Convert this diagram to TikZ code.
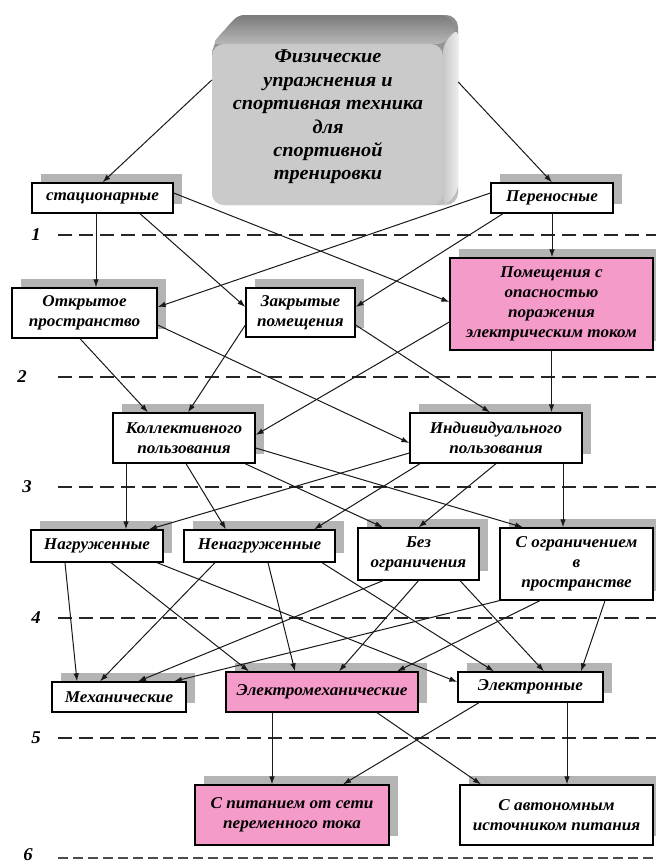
\documentclass[tikz,border=0pt]{standalone}
\usepackage{fontspec}
\setmainfont[FakeStretch=1.04]{Liberation Serif}
\usetikzlibrary{arrows.meta,shadows}
\definecolor{pinkfill}{HTML}{F59BC9}
\definecolor{shadowgray}{HTML}{B4B4B4}
\definecolor{faceface}{HTML}{CACACA}
\begin{document}
\begin{tikzpicture}[x=1pt,y=-1pt,
  box/.style={draw=black,line width=1.3pt,fill=white,inner sep=0pt,align=center,
    font=\fontsize{16.5}{20}\selectfont\bfseries\itshape,
    drop shadow={shadow xshift=9pt,shadow yshift=9pt,fill=shadowgray,opacity=1}},
  pinkbox/.style={box,fill=pinkfill},
  link/.style={line width=1pt,draw=black!90,-{Latex[length=8pt,width=5.5pt]}},
  level/.style={dash pattern=on 14pt off 7pt,line width=1.2pt,draw=black!85},
  levelnum/.style={font=\fontsize{18}{20}\selectfont\bfseries\itshape}
]
\useasboundingbox (0,0) rectangle (656,865);
\fill[white] (0,0) rectangle (656,865);

% beveled title block: body, front face, top and right bevels
\shade[top color=black!45,bottom color=black!25,rounded corners=12pt]
  (212,44) -- (238,15) -- (458,15) -- (458,205) -- (212,205) -- cycle;
\fill[faceface,rounded corners=12pt] (212,44) rectangle (443,205);
\shade[top color=black!52,bottom color=black!28,rounded corners=6pt]
  (212,44) -- (238,15) -- (446,15) -- (458,28) -- (443,44) -- cycle;
\shade[left color=black!22,right color=black!7,rounded corners=8pt]
  (443,44) -- (458,28) -- (458,192) -- (446,205) -- (443,205) -- cycle;
\node[minimum width=246pt,minimum height=190pt,inner sep=0pt] (top) at (335,110) {};
\node[font=\fontsize{19.5}{23.4}\selectfont\bfseries\itshape,align=center] (toptext) at (328,117)
  {Физические\\упражнения и\\спортивная техника\\для\\спортивной\\тренировки};

% level separators
\foreach \n/\lx/\ly in {1/36/235,2/22/377,3/27/487,4/36/618,5/36/738}{
  \node[levelnum] (lv\n) at (\lx,\ly) {\n};
  \draw[level] (58,\ly) -- (656,\ly);
}
\node[levelnum] (lv6) at (28,855) {6};
\draw[level,dash pattern=on 10pt off 5pt,draw=black!70] (58,858) -- (656,858);

% boxes
\node[box,minimum width=141pt,minimum height=30pt] (stac) at (102.5,198) {стационарные};
\node[box,minimum width=122pt,minimum height=30pt] (pere) at (552,198) {Переносные};
\node[box,minimum width=145pt,minimum height=50pt] (otkr) at (84.5,313) {Открытое\\пространство};
\node[box,minimum width=109pt,minimum height=49pt] (zakr) at (300.5,312.5) {Закрытые\\помещения};
\node[pinkbox,minimum width=203pt,minimum height=92pt] (pom) at (551.5,304) {Помещения с\\опасностью\\поражения\\электрическим током};
\node[box,minimum width=142pt,minimum height=50pt] (koll) at (184,438) {Коллективного\\пользования};
\node[box,minimum width=172pt,minimum height=50pt] (indiv) at (496,438) {Индивидуального\\пользования};
\node[box,minimum width=132pt,minimum height=32pt] (nagr) at (97,546) {Нагруженные};
\node[box,minimum width=151pt,minimum height=32pt] (nenagr) at (259.5,546) {Ненагруженные};
\node[box,minimum width=121pt,minimum height=52pt] (bez) at (418.5,554) {Без\\ограничения};
\node[box,minimum width=153pt,minimum height=72pt] (sogr) at (576.5,564) {С ограничением\\в\\пространстве};
\node[box,minimum width=134pt,minimum height=30pt] (mech) at (119,697) {Механические};
\node[pinkbox,minimum width=192pt,minimum height=40pt] (emech) at (322,692) {Электромеханические};
\node[box,minimum width=145pt,minimum height=30pt] (elec) at (530.5,687) {Электронные};
\node[pinkbox,minimum width=194pt,minimum height=60pt] (seti) at (292,815) {С питанием от сети\\переменного тока};
\node[box,minimum width=193pt,minimum height=60pt] (avt) at (556.5,815) {С автономным\\источником питания};

% connectors
\draw[link] ([yshift=30pt]top.west) -- (stac.north);
\draw[link] ([yshift=28pt]top.east) -- (pere.north);

\draw[link] ([xshift=-6.5pt]stac.south) -- ([xshift=11.5pt]otkr.north);
\draw[link] ([xshift=37.5pt]stac.south) -- ([yshift=5.5pt]zakr.west);
\draw[link] ([yshift=5pt]stac.east) -- ([yshift=2pt]pom.west);
\draw[link] ([yshift=5pt]pere.west) -- ([yshift=6pt]otkr.east);
\draw[link] ([xshift=-49pt]pere.south) -- ([yshift=5.5pt]zakr.east);
\draw[link] (pere.south) -- (pere.south |- pom.north);

\draw[link] ([xshift=-4.5pt]otkr.south) -- ([xshift=-36pt]koll.north);
\draw[link] ([yshift=-12pt]otkr.east) -- ([yshift=-5pt]indiv.west);
\draw[link] ([yshift=-12.5pt]zakr.west) -- ([xshift=4pt]koll.north);
\draw[link] ([yshift=-12.5pt]zakr.east) -- ([xshift=-6pt]indiv.north);
\draw[link] ([yshift=-18pt]pom.west) -- ([yshift=3pt]koll.east);
\draw[link] (pom.south) -- (pom.south |- indiv.north);

\draw[link] ([xshift=-58pt]koll.south) -- ([xshift=29pt]nagr.north);
\draw[link] ([xshift=2pt]koll.south) -- ([xshift=-33.5pt]nenagr.north);
\draw[link] ([xshift=61pt]koll.south) -- ([xshift=-35.5pt]bez.north);
\draw[link] ([yshift=-10pt]koll.east) -- ([xshift=-53.5pt]sogr.north);
\draw[link] ([yshift=-15pt]indiv.west) -- ([xshift=52pt]nagr.north);
\draw[link] ([xshift=-76pt]indiv.south) -- ([xshift=54.5pt]nenagr.north);
\draw[link] (indiv.south) -- (bez.north);
\draw[link] ([xshift=67pt]indiv.south) -- ([xshift=-13.5pt]sogr.north);

\draw[link] ([xshift=-32pt]nagr.south) -- ([xshift=-42pt]mech.north);
\draw[link] ([xshift=14pt]nagr.south) -- ([xshift=-73pt]emech.north);
\draw[link] ([xshift=60pt]nagr.south) -- ([yshift=5pt]elec.west);
\draw[link] ([xshift=-44.5pt]nenagr.south) -- ([xshift=-19pt]mech.north);
\draw[link] ([xshift=8.5pt]nenagr.south) -- ([xshift=-27pt]emech.north);
\draw[link] ([xshift=62.5pt]nenagr.south) -- ([xshift=-36.5pt]elec.north);
\draw[link] ([xshift=-35.5pt]bez.south) -- ([xshift=19pt]mech.north);
\draw[link] (bez.south) -- ([xshift=17pt]emech.north);
\draw[link] ([xshift=41.5pt]bez.south) -- ([xshift=13.5pt]elec.north);
\draw[link] (sogr.south west) -- ([xshift=55pt]mech.north);
\draw[link] ([xshift=-36.5pt]sogr.south) -- ([xshift=75pt]emech.north);
\draw[link] ([xshift=28.5pt]sogr.south) -- ([xshift=50.5pt]elec.north);

\draw[link] ([xshift=-50pt]emech.south) -- ([xshift=-20pt]seti.north);
\draw[link] ([xshift=55pt]emech.south) -- ([xshift=-75.5pt]avt.north);
\draw[link] ([xshift=-51.5pt]elec.south) -- ([xshift=51pt]seti.north);
\draw[link] ([xshift=36.5pt]elec.south) -- ([xshift=10.5pt]avt.north);
\end{tikzpicture}
\end{document}
